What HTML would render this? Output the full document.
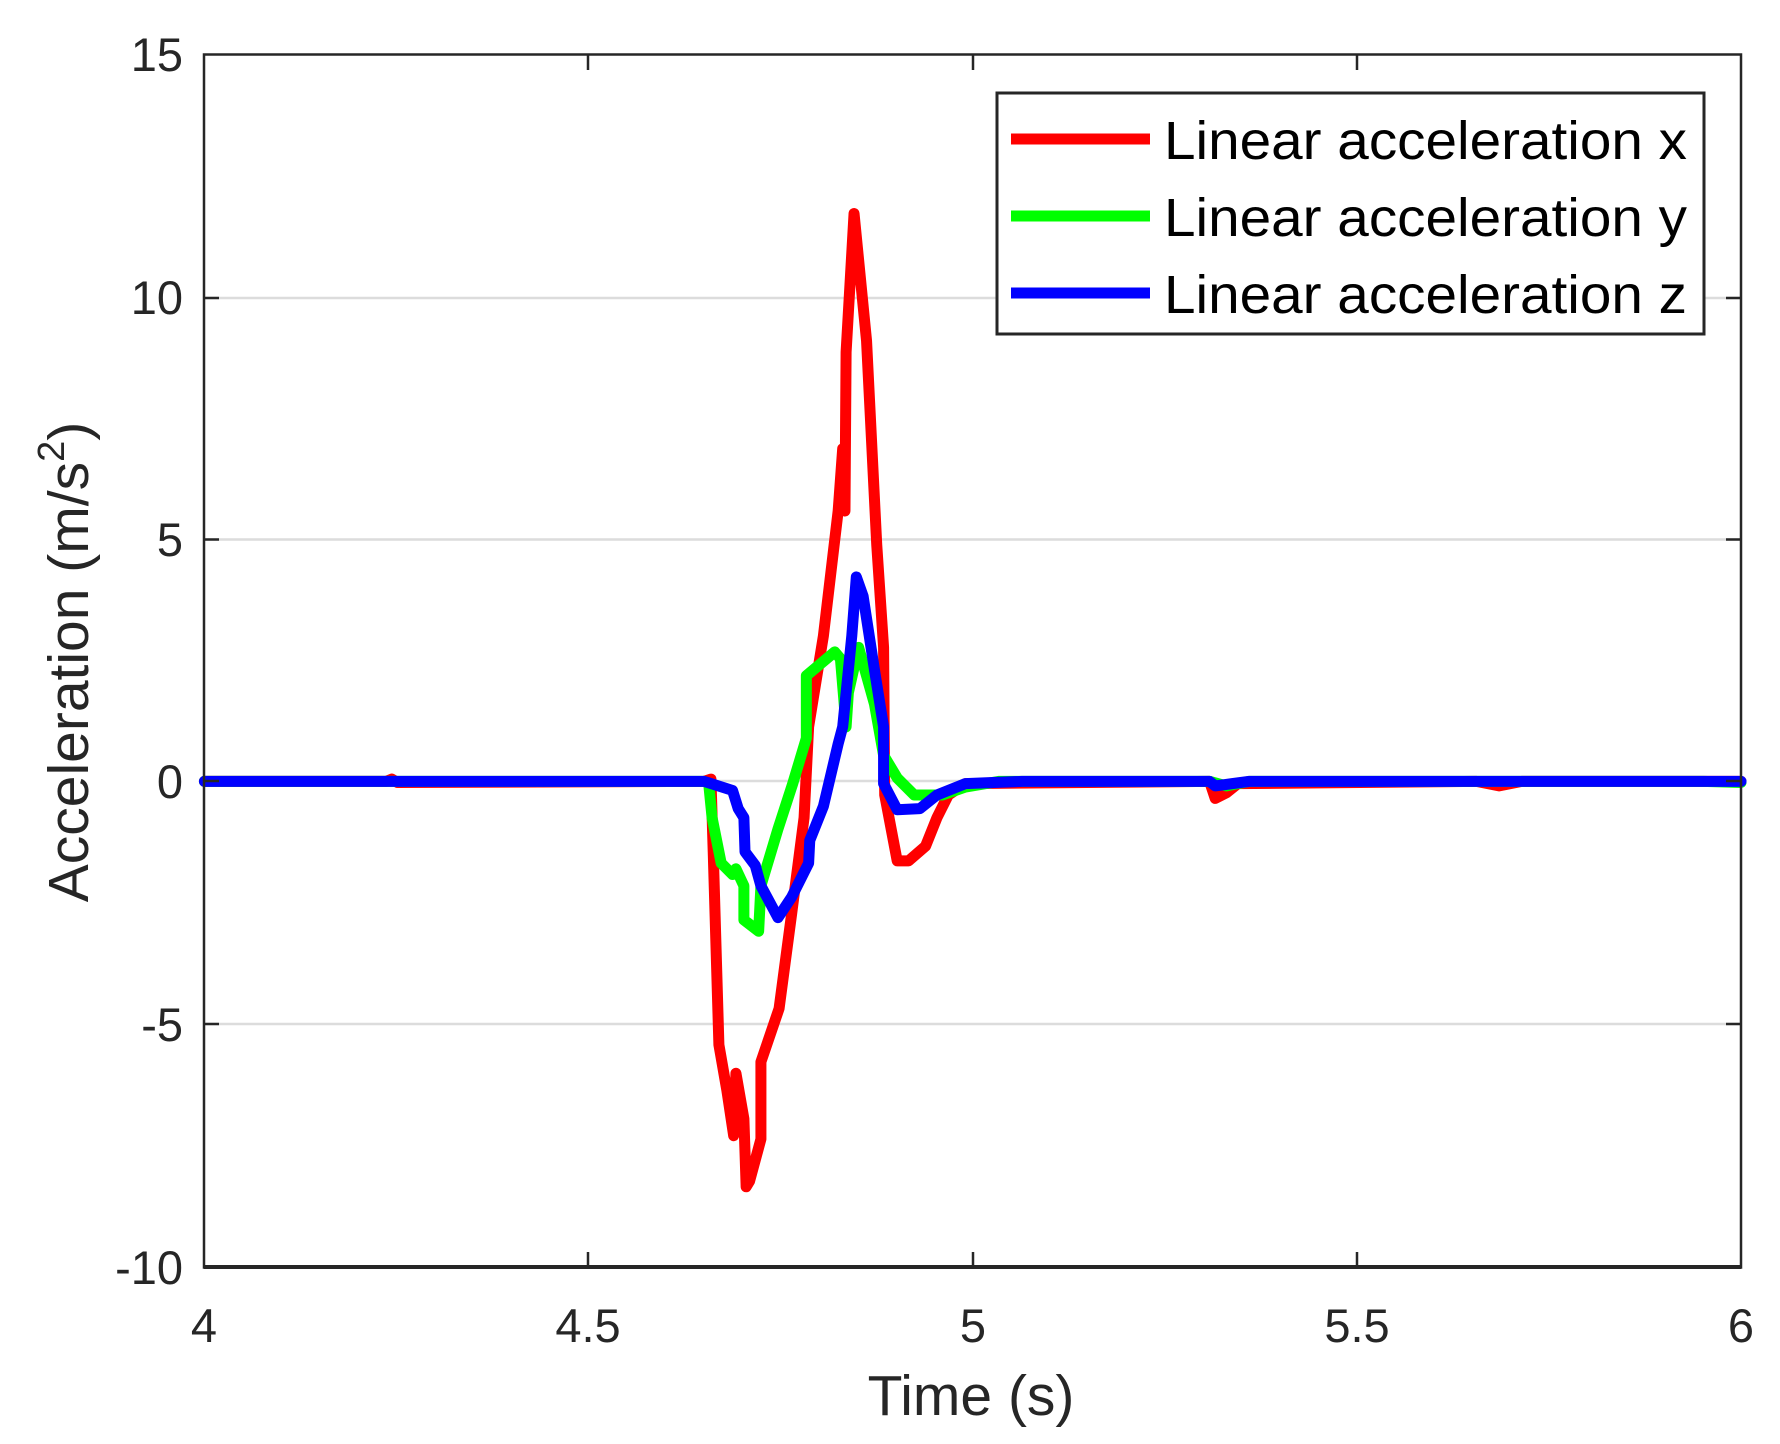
<!DOCTYPE html>
<html><head><meta charset="utf-8"><style>
html,body{margin:0;padding:0;background:#fff;}
svg{display:block;font-family:"Liberation Sans",Arial,sans-serif;}
</style></head><body>
<svg width="1780" height="1444" viewBox="0 0 1780 1444" xmlns="http://www.w3.org/2000/svg">
<rect width="1780" height="1444" fill="#fff"/>
<g stroke="#dcdcdc" stroke-width="2.5">
<line x1="204" y1="298" x2="1741" y2="298"/>
<line x1="204" y1="539.5" x2="1741" y2="539.5"/>
<line x1="204" y1="781" x2="1741" y2="781"/>
<line x1="204" y1="1024" x2="1741" y2="1024"/>
</g>
<g transform="scale(1.1357)" fill="none" stroke-linejoin="round" stroke-linecap="round">
<polyline vector-effect="non-scaling-stroke" stroke="#ff0000" stroke-width="11" points="180,688 340,688 345,686 350,689 620,688 626,686 628,750 633,920 640,960 646,1000 648,945 655,985 657,1045 660,1040 670,1003 670,935 686,888 697,805 708,720 712,640 725,560 738,450 742,395 744,450 745,310 752,188 763,300 772,480 778,570 779,700 790,758 800,758 815,745 825,720 835,700 850,690 1065,688 1070,703 1080,698 1090,690 1300,688 1320,692 1340,688 1533,688"/>
<polyline vector-effect="non-scaling-stroke" stroke="#00ff00" stroke-width="11" points="180,688 620,688 624,690 627,720 635,760 645,770 648,765 655,780 655,810 668,820 670,780 685,730 698,690 710,650 710,595 735,574 740,580 745,640 747,610 756,570 770,620 778,665 790,685 805,700 830,700 850,693 880,688 1065,688 1080,692 1100,688 1500,688 1533,689"/>
<polyline vector-effect="non-scaling-stroke" stroke="#0000ff" stroke-width="11" points="180,688 620,688 645,696 650,712 655,720 656,750 665,762 670,780 685,808 697,790 712,760 713,740 725,710 738,655 742,640 750,560 754,508 760,525 770,590 778,640 778,690 790,713 810,712 825,700 850,690 900,688 1065,688 1070,692 1085,690 1100,688 1533,688"/>
</g>
<rect x="204" y="54.5" width="1537" height="1213" fill="none" stroke="#262626" stroke-width="2.5"/>
<g stroke="#262626" stroke-width="2.5">
<line x1="588" y1="1267" x2="588" y2="1252"/><line x1="973" y1="1267" x2="973" y2="1252"/><line x1="1357" y1="1267" x2="1357" y2="1252"/>
<line x1="588" y1="55" x2="588" y2="70"/><line x1="973" y1="55" x2="973" y2="70"/><line x1="1357" y1="55" x2="1357" y2="70"/>
<line x1="204" y1="298" x2="219" y2="298"/><line x1="204" y1="539.5" x2="219" y2="539.5"/><line x1="204" y1="781" x2="219" y2="781"/><line x1="204" y1="1024" x2="219" y2="1024"/>
<line x1="1741" y1="298" x2="1726" y2="298"/><line x1="1741" y1="539.5" x2="1726" y2="539.5"/><line x1="1741" y1="781" x2="1726" y2="781"/><line x1="1741" y1="1024" x2="1726" y2="1024"/>
</g>
<line x1="204" y1="1267" x2="1741" y2="1267" stroke="#262626" stroke-width="4"/>
<g fill="#262626" font-size="47" text-anchor="end">
<text x="183" y="71">15</text>
<text x="183" y="314">10</text>
<text x="183" y="556">5</text>
<text x="183" y="798">0</text>
<text x="183" y="1041">-5</text>
<text x="183" y="1284">-10</text>
</g>
<g fill="#262626" font-size="47" text-anchor="middle">
<text x="204" y="1342">4</text>
<text x="588" y="1342">4.5</text>
<text x="973" y="1342">5</text>
<text x="1357" y="1342">5.5</text>
<text x="1741" y="1342">6</text>
</g>
<text x="971" y="1415" fill="#262626" font-size="57" text-anchor="middle">Time (s)</text>
<text transform="translate(88,662) rotate(-90)" fill="#262626" font-size="57" text-anchor="middle">Acceleration (m/s<tspan font-size="38" dy="-24">2</tspan><tspan dy="24">)</tspan></text>
<rect x="997" y="93" width="707" height="241" fill="#fff" stroke="#262626" stroke-width="3"/>
<g stroke-width="11">
<line x1="1011" y1="139" x2="1150" y2="139" stroke="#ff0000"/>
<line x1="1011" y1="216" x2="1150" y2="216" stroke="#00ff00"/>
<line x1="1011" y1="293" x2="1150" y2="293" stroke="#0000ff"/>
</g>
<g fill="#000" font-size="54">
<text x="1164" y="159" textLength="523" lengthAdjust="spacingAndGlyphs">Linear acceleration x</text>
<text x="1164" y="236" textLength="523" lengthAdjust="spacingAndGlyphs">Linear acceleration y</text>
<text x="1164" y="313" textLength="523" lengthAdjust="spacingAndGlyphs">Linear acceleration z</text>
</g>
</svg>
</body></html>
